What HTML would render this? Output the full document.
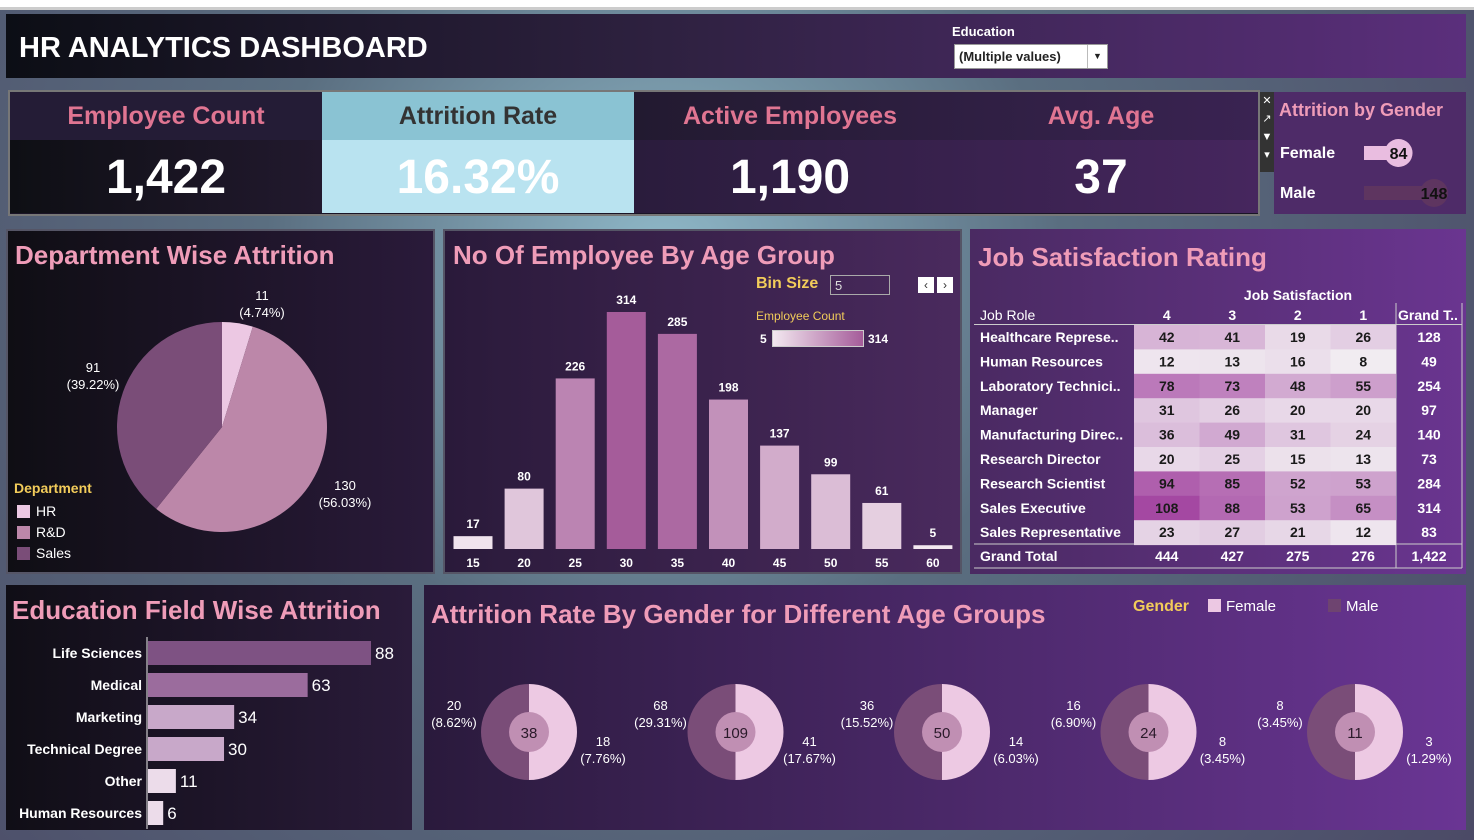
<!DOCTYPE html>
<html><head><meta charset="utf-8">
<style>
*{margin:0;padding:0;box-sizing:border-box}
body{width:1474px;height:840px;overflow:hidden;background:#5d6f7d;font-family:"Liberation Sans",sans-serif;position:relative}
.p{position:absolute}
.t{position:absolute;white-space:nowrap}
.title{color:#ef9cb8;font-weight:bold;font-size:26px}
</style></head><body>
<div class="p" style="left:0;top:0;width:1474px;height:10px;background:#fff;border-bottom:3px solid #ccc"></div>
<div class="p" style="left:0;top:10px;width:1474px;height:830px;background:radial-gradient(circle at 45% 30%,#8fb8c8 0%,#5a6e80 40%,#4b4a66 100%)"></div>
<div class="p" style="left:6px;top:14px;width:1460px;height:64px;background:linear-gradient(90deg,#0c0e15,#2e2140 45%,#5b2f7c)"></div>
<div class="t" style="left:19px;top:32px;color:#fff;font-size:29px;font-weight:bold">HR ANALYTICS DASHBOARD</div>
<div class="t" style="left:952px;top:24px;color:#fff;font-size:13px;font-weight:bold">Education</div>
<div class="t" style="left:954px;top:44px;width:154px;height:25px;background:#fff;border:1px solid #999;font-size:13px;padding:4px 4px;color:#222;font-weight:bold">(Multiple values)<span style="position:absolute;right:0;top:0;width:20px;height:23px;border-left:1px solid #bbb;text-align:center;font-size:9px;line-height:23px">▼</span></div>

<div class="p" style="left:8px;top:90px;width:1252px;height:126px;border:2px solid #777;background:#1a1426"></div>
<div class="p" style="left:10px;top:92px;width:312px;height:48px;background:#241c36"></div>
<div class="p" style="left:10px;top:140px;width:312px;height:73px;background:linear-gradient(90deg,#0e0f14,#22192e)"></div>
<div class="p" style="left:322px;top:92px;width:312px;height:48px;background:#8ac3d3"></div>
<div class="p" style="left:322px;top:140px;width:312px;height:73px;background:#b9e3f0"></div>
<div class="p" style="left:634px;top:92px;width:624px;height:48px;background:linear-gradient(90deg,#221a30,#3a2352)"></div>
<div class="p" style="left:634px;top:140px;width:624px;height:73px;background:linear-gradient(90deg,#2a1c3c,#46265e)"></div>
<div class="t" style="left:10px;width:312px;top:102px;text-align:center;color:#e07592;font-size:25px;font-weight:bold">Employee Count</div>
<div class="t" style="left:10px;width:312px;top:150px;text-align:center;color:#fff;font-size:48px;font-weight:bold">1,422</div>
<div class="t" style="left:322px;width:312px;top:102px;text-align:center;color:#333;font-size:25px;font-weight:bold">Attrition Rate</div>
<div class="t" style="left:322px;width:312px;top:150px;text-align:center;color:#fff;font-size:48px;font-weight:bold">16.32%</div>
<div class="t" style="left:634px;width:312px;top:102px;text-align:center;color:#e07592;font-size:25px;font-weight:bold">Active Employees</div>
<div class="t" style="left:634px;width:312px;top:150px;text-align:center;color:#fff;font-size:48px;font-weight:bold">1,190</div>
<div class="t" style="left:946px;width:310px;top:102px;text-align:center;color:#e07592;font-size:25px;font-weight:bold">Avg. Age</div>
<div class="t" style="left:946px;width:310px;top:150px;text-align:center;color:#fff;font-size:48px;font-weight:bold">37</div>
<div class="p" style="left:1260px;top:92px;width:14px;height:80px;background:#333;color:#fff;font-size:11px;text-align:center;line-height:18px">✕<br>↗<br>▼<br>▾</div>

<div class="p" style="left:1274px;top:92px;width:192px;height:122px;background:#4e2b68"></div>
<div class="t" style="left:1279px;top:100px;color:#ef9cb8;font-size:18px;font-weight:bold">Attrition by Gender</div>
<div class="t" style="left:1280px;top:145px;color:#fff;font-size:16px;font-weight:bold">Female</div>
<div class="t" style="left:1280px;top:185px;color:#fff;font-size:16px;font-weight:bold">Male</div>

<div class="p" style="left:6px;top:229px;width:429px;height:345px;background:linear-gradient(90deg,#0f0e14,#2a1a3a);border:2px solid #556"></div>
<div class="p" style="left:443px;top:229px;width:519px;height:345px;background:linear-gradient(90deg,#2a1a3a,#4a2a5e);border:2px solid #556"></div>
<div class="p" style="left:970px;top:229px;width:496px;height:345px;background:linear-gradient(90deg,#4a2a62,#6a3590)"></div>
<div class="p" style="left:6px;top:585px;width:406px;height:245px;background:linear-gradient(90deg,#100e16,#2a1b3a)"></div>
<div class="p" style="left:424px;top:585px;width:1042px;height:245px;background:linear-gradient(90deg,#2a1a3c,#4a2868 50%,#6a3594)"></div>

<div class="t title" style="left:15px;top:240px">Department Wise Attrition</div>
<div class="t title" style="left:453px;top:240px">No Of Employee By Age Group</div>
<div class="t title" style="left:978px;top:242px">Job Satisfaction Rating</div>
<div class="t title" style="left:12px;top:595px">Education Field Wise Attrition</div>
<div class="t title" style="left:431px;top:599px">Attrition Rate By Gender for Different Age Groups</div>

<div class="t" style="left:756px;top:275px;color:#f2cc5a;font-size:16px;font-weight:bold">Bin Size</div>
<div class="t" style="left:830px;top:275px;width:60px;height:20px;border:1px solid #aaa;color:#ddd;font-size:13px;padding:2px 4px">5</div>
<div class="t" style="left:918px;top:277px;width:16px;height:16px;background:#fff;color:#333;font-size:12px;text-align:center;line-height:16px">‹</div>
<div class="t" style="left:937px;top:277px;width:16px;height:16px;background:#fff;color:#333;font-size:12px;text-align:center;line-height:16px">›</div>
<div class="t" style="left:756px;top:309px;color:#f2cc5a;font-size:12px">Employee Count</div>
<div class="t" style="left:760px;top:332px;color:#fff;font-size:12px;font-weight:bold">5</div>
<div class="p" style="left:772px;top:330px;width:92px;height:17px;background:linear-gradient(90deg,#f3e8f0,#a55c9a);border:1px solid #ccc"></div>
<div class="t" style="left:868px;top:332px;color:#fff;font-size:12px;font-weight:bold">314</div>

<div class="t" style="left:14px;top:480px;color:#f2cc5a;font-size:14px;font-weight:bold">Department</div>
<div class="t" style="left:17px;top:501px;color:#fff;font-size:14px;line-height:21px">
<div><span style="display:inline-block;width:13px;height:13px;background:#ecc8e3;vertical-align:-2px;margin-right:6px"></span>HR</div>
<div><span style="display:inline-block;width:13px;height:13px;background:#bc87a9;vertical-align:-2px;margin-right:6px"></span>R&amp;D</div>
<div><span style="display:inline-block;width:13px;height:13px;background:#7a4d78;vertical-align:-2px;margin-right:6px"></span>Sales</div></div>

<div class="t" style="left:1133px;top:598px;color:#f2cc5a;font-size:16px;font-weight:bold">Gender</div>
<div class="t" style="left:1208px;top:598px;color:#fff;font-size:15px"><span style="display:inline-block;width:13px;height:13px;background:#ecc8e3;vertical-align:-1px;margin-right:5px"></span>Female</div>
<div class="t" style="left:1328px;top:598px;color:#fff;font-size:15px"><span style="display:inline-block;width:13px;height:13px;background:#6e4470;vertical-align:-1px;margin-right:5px"></span>Male</div>

<svg id="s" class="p" style="left:0;top:0" width="1474" height="840"></svg>

<script>
// Department pie
const deptNames=["HR","R&D","Sales"];
const deptValues=[11,130,91];
const deptLabels=["11\n(4.74%)","130\n(56.03%)","91\n(39.22%)"];
// Age histogram
const ageBins=[15,20,25,30,35,40,45,50,55,60];
const ageCounts=[17,80,226,314,285,198,137,99,61,5];
// Education
const eduFields=["Life Sciences","Medical","Marketing","Technical Degree","Other","Human Resources"];
const eduValues=[88,63,34,30,11,6];
// Job satisfaction
const jobRoles=["Healthcare Represe..","Human Resources","Laboratory Technici..","Manager","Manufacturing Direc..","Research Director","Research Scientist","Sales Executive","Sales Representative"];
const satLevels=["4","3","2","1"];
const satValues=[[42,41,19,26],[12,13,16,8],[78,73,48,55],[31,26,20,20],[36,49,31,24],[20,25,15,13],[94,85,52,53],[108,88,53,65],[23,27,21,12]];
// Gender attrition
const genders=["Female","Male"];
const genderValues=[84,148];
// Gender by age groups
const ageGroupMale=[20,68,36,16,8];
const ageGroupFemale=[18,41,14,8,3];
const ageGroupMalePct=["8.62%","29.31%","15.52%","6.90%","3.45%"];
const ageGroupFemalePct=["7.76%","17.67%","6.03%","3.45%","1.29%"];

const S=document.getElementById('s');const NS="http://www.w3.org/2000/svg";
function el(tag,attrs,parent){const e=document.createElementNS(NS,tag);for(const k in attrs)e.setAttribute(k,attrs[k]);(parent||S).appendChild(e);return e;}
function txt(x,y,s,attrs){const e=el('text',Object.assign({x:x,y:y,fill:'#fff','font-size':13,'font-family':'Liberation Sans, sans-serif'},attrs||{}));e.textContent=s;return e;}
function mix(a,b,t){const pa=[1,3,5].map(i=>parseInt(a.substr(i,2),16)),pb=[1,3,5].map(i=>parseInt(b.substr(i,2),16));return 'rgb('+pa.map((v,i)=>Math.round(v+(pb[i]-v)*t)).join(',')+')';}

// Pie
(function(){const cx=222,cy=427,r=105;const tot=deptValues.reduce((a,b)=>a+b,0);const cols=["#ecc8e3","#bc87a9","#7a4d78"];let a0=-Math.PI/2;
const lp=[[262,300],[345,490],[93,372]];
deptValues.forEach((v,i)=>{const a1=a0+v/tot*2*Math.PI;const large=(a1-a0)>Math.PI?1:0;
const p=el('path',{d:`M${cx},${cy}L${cx+r*Math.cos(a0)},${cy+r*Math.sin(a0)}A${r},${r} 0 ${large} 1 ${cx+r*Math.cos(a1)},${cy+r*Math.sin(a1)}Z`,fill:cols[i]});


const L=deptLabels[i].split('\n');txt(lp[i][0],lp[i][1],L[0],{'text-anchor':'middle'});txt(lp[i][0],lp[i][1]+17,L[1],{'text-anchor':'middle'});a0=a1;});})();

// Age histogram
(function(){const base=549,sc=237/314;const x=i=>473+i*51.1;const w=39;const mx=Math.max(...ageCounts);
ageCounts.forEach((v,i)=>{const h=v*sc;const b=el('rect',{x:x(i)-w/2,y:base-h,width:w,height:h,fill:mix('#f3e8f0','#a55c9a',(v-5)/(mx-5))});


txt(x(i),base-h-8,String(v),{'text-anchor':'middle','font-weight':'bold','font-size':12});
txt(x(i),567,String(ageBins[i]),{'text-anchor':'middle','font-weight':'bold','font-size':12});});})();

// Education bars
(function(){const x0=148,sc=223/88;const cols=["#7e5283","#9b6c9d","#c8a8c9","#c8a8c9","#ecdcea","#ecdcea"];
el('line',{x1:147,y1:637,x2:147,y2:829,stroke:'#eee','stroke-width':1});
eduValues.forEach((v,i)=>{const yc=653+i*32;const b=el('rect',{x:x0,y:yc-12,width:v*sc,height:24,fill:cols[i]});


txt(142,yc+5,eduFields[i],{'text-anchor':'end','font-weight':'bold','font-size':14});
txt(x0+v*sc+4,yc+6,String(v),{'font-size':17});});})();

// Job satisfaction heatmap
(function(){const colX=[1134,1199.5,1265,1330.5,1396,1462];const y0=325,rh=24.4;
txt(1298,300,'Job Satisfaction',{'text-anchor':'middle','font-weight':'bold','font-size':14});
txt(980,320,'Job Role',{'font-size':14});
satLevels.forEach((s,j)=>txt((colX[j]+colX[j+1])/2,320,s,{'text-anchor':'middle','font-weight':'bold','font-size':14}));
txt(1398,320,'Grand T..',{'font-weight':'bold','font-size':14});
el('line',{x1:974,y1:324.5,x2:1462,y2:324.5,stroke:'#ccc'});
el('line',{x1:1396,y1:303,x2:1396,y2:568,stroke:'#ccc'});
el('line',{x1:974,y1:544,x2:1462,y2:544,stroke:'#ccc'});
el('line',{x1:974,y1:568,x2:1462,y2:568,stroke:'#ccc'});
el('line',{x1:1462,y1:303,x2:1462,y2:568,stroke:'#ccc'});
const tot=[0,0,0,0];
satValues.forEach((row,i)=>{const y=y0+i*rh;txt(980,y+17,jobRoles[i],{'font-weight':'bold','font-size':14});let rs=0;
row.forEach((v,j)=>{tot[j]+=v;rs+=v;const c=el('rect',{x:colX[j],y:y,width:colX[j+1]-colX[j],height:rh+0.5,fill:mix('#f1ecf1','#a448a2',(v-8)/100)});


txt((colX[j]+colX[j+1])/2,y+17,String(v),{'text-anchor':'middle','font-weight':'bold','font-size':14,fill:'#1a1a1a'});});
txt(1429,y+17,String(rs),{'text-anchor':'middle','font-weight':'bold','font-size':14});});
txt(980,561,'Grand Total',{'font-weight':'bold','font-size':14});
tot.forEach((v,j)=>txt((colX[j]+colX[j+1])/2,561,String(v),{'text-anchor':'middle','font-weight':'bold','font-size':14}));
txt(1429,561,tot.reduce((a,b)=>a+b,0).toLocaleString('en-US'),{'text-anchor':'middle','font-weight':'bold','font-size':14});})();

// Gender bars
(function(){const x0=1364,sc=82/148;const cols=["#e9bde0","#5e3560"];
genderValues.forEach((v,i)=>{const yc=153+i*40;const b=el('rect',{x:x0,y:yc-7,width:v*sc,height:14,fill:cols[i]});


el('circle',{cx:x0+v*sc-12,cy:yc,r:14,fill:cols[i]});
txt(x0+v*sc-12,yc+6,String(v),{'text-anchor':'middle','font-weight':'bold','font-size':16,fill:'#111'});});})();

// Gender age donuts
(function(){const cy=732,R=48,ri=20;
ageGroupMale.forEach((m,i)=>{const cx=529+i*206.5;const f=ageGroupFemale[i];
const tot=m+f;
const pm=el('path',{d:`M${cx},${cy-R}A${R},${R} 0 0 0 ${cx},${cy+R}Z`,fill:'#7a4d78'});


const pf=el('path',{d:`M${cx},${cy-R}A${R},${R} 0 0 1 ${cx},${cy+R}Z`,fill:'#edc9e3'});


el('circle',{cx:cx,cy:cy,r:ri,fill:'#c08fb3'});
txt(cx,cy+6,String(m+f+0),{'text-anchor':'middle','font-size':15,fill:'#2a1a2a'});
txt(cx-75,710,String(m),{'text-anchor':'middle'});txt(cx-75,727,'('+ageGroupMalePct[i]+')',{'text-anchor':'middle'});
txt(cx+74,746,String(f),{'text-anchor':'middle'});txt(cx+74,763,'('+ageGroupFemalePct[i]+')',{'text-anchor':'middle'});});})();
</script>
</body></html>
